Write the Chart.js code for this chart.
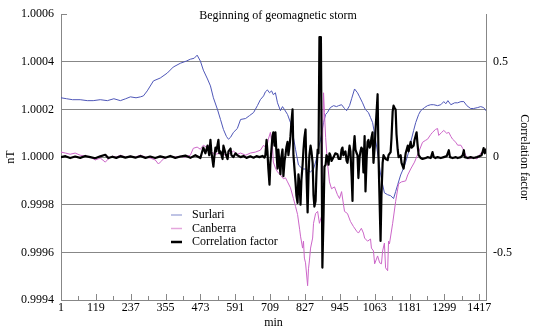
<!DOCTYPE html>
<html>
<head>
<meta charset="utf-8">
<title>Beginning of geomagnetic storm</title>
<script src="https://cdn.jsdelivr.net/npm/chart.js@4.4.1/dist/chart.umd.min.js"></script>
<style>
  html, body { margin: 0; padding: 0; background: #ffffff; }
  #chart { display: block; }
</style>
</head>
<body>
<canvas id="chart" width="534" height="331"></canvas>
<script>
const chartTitle = 'Beginning of geomagnetic storm';
const seriesNames = ['Surlari', 'Canberra', 'Correlation factor'];

// x axis labels (minutes), every 118 with a minor tick half way
const xLabels = [1, 119, 237, 355, 473, 591, 709, 827, 945, 1063, 1181, 1299, 1417];
const nTTicks = [0.9994, 0.9996, 0.9998, 1.0000, 1.0002, 1.0004, 1.0006];
const corrTicks = [-0.5, 0, 0.5];

// Surlari (nT, left axis)
const surlariMin = [1, 20, 40, 66, 90, 110, 134, 158, 180, 202, 220, 236, 255, 270, 280, 293, 314, 337, 361, 381,
  405, 425, 439, 452, 462, 473, 483, 497, 507, 517, 531, 541, 551, 561, 568, 575, 585, 598, 609, 626,
  639, 653, 666, 676, 687, 693, 700, 707, 714, 720, 727, 734, 744, 751, 758, 768, 778, 785, 795, 805,
  819, 829, 839, 846, 856, 863, 870, 880, 890, 897, 903, 913, 924, 934, 941, 951, 961, 968, 978, 985,
  995, 1005, 1012, 1022, 1032, 1042, 1049, 1056, 1066, 1076, 1083, 1090, 1096, 1107, 1117, 1127, 1134, 1141, 1151, 1161,
  1168, 1178, 1185, 1195, 1202, 1212, 1219, 1232, 1242, 1253, 1263, 1276, 1287, 1297, 1304, 1311, 1321, 1334, 1344, 1355,
  1365, 1375, 1388, 1398, 1412, 1422, 1432, 1440];
const surlariVal = [1.000249, 1.000245, 1.000241, 1.000241, 1.000237, 1.000237, 1.000241, 1.000237, 1.000245, 1.000237,
  1.000245, 1.000253, 1.000249, 1.000253, 1.000257, 1.000278, 1.00032, 1.000332, 1.000353, 1.000378,
  1.000394, 1.000403, 1.000411, 1.000415, 1.000428, 1.000403, 1.000365, 1.000328, 1.000299, 1.000249,
  1.000199, 1.000158, 1.000116, 1.000087, 1.000075, 1.000083, 1.000104, 1.00012, 1.000158, 1.000162,
  1.000174, 1.000187, 1.000216, 1.000241, 1.000257, 1.000274, 1.000282, 1.00027, 1.000278, 1.000262,
  1.00027, 1.000228, 1.000195, 1.000212, 1.000199, 1.000179, 1.000145, 1.000104, 1.000033, 0.999967,
  0.99995, 0.99995, 0.999942, 0.999938, 0.99995, 0.999979, 1.000021, 1.000075, 1.000145, 1.000179,
  1.000187, 1.000208, 1.000216, 1.000212, 1.000216, 1.00022, 1.000204, 1.000195, 1.000216, 1.000245,
  1.000286, 1.00027, 1.000253, 1.000228, 1.000199, 1.000187, 1.000166, 1.000145, 1.000075, 0.999992,
  0.999929, 0.999884, 0.99985, 0.999842, 0.999838, 0.999826, 0.999855, 0.999884, 0.999925, 0.999954,
  0.999979, 1.000021, 1.000062, 1.000112, 1.000145, 1.000179, 1.000195, 1.000208, 1.000216, 1.00022,
  1.00022, 1.000216, 1.00022, 1.000233, 1.000224, 1.000237, 1.00022, 1.000228, 1.000228, 1.000233,
  1.000233, 1.000216, 1.000204, 1.000204, 1.000208, 1.000212, 1.000208, 1.000195];

// Canberra (nT, left axis)
const canberraMin = [1, 16, 32, 49, 66, 83, 100, 117, 134, 151, 161, 175, 188, 202, 219, 236, 253, 270, 287, 303,
  320, 331, 337, 348, 361, 371, 388, 405, 422, 439, 449, 462, 473, 483, 493, 500, 510, 524, 541, 558,
  575, 585, 598, 609, 626, 642, 659, 676, 687, 697, 703, 710, 717, 720, 727, 734, 744, 754, 761, 768,
  778, 788, 795, 802, 809, 812, 819, 822, 825, 829, 836, 839, 842, 846, 853, 856, 863, 870, 876, 883,
  886, 890, 893, 897, 903, 910, 917, 927, 937, 944, 951, 961, 971, 981, 991, 1002, 1008, 1018, 1025, 1029,
  1039, 1049, 1052, 1059, 1063, 1073, 1080, 1086, 1090, 1096, 1100, 1107, 1110, 1113, 1124, 1134, 1144, 1154, 1168, 1175,
  1185, 1198, 1212, 1225, 1236, 1242, 1253, 1259, 1269, 1276, 1280, 1290, 1297, 1307, 1314, 1321, 1327, 1338, 1344, 1355,
  1361, 1371, 1381, 1392, 1398, 1409, 1415, 1422, 1432, 1440];
const canberraVal = [1.000021, 1.000017, 1.000012, 1.000017, 1.000008, 1.000004, 1.0, 0.999988, 0.999996, 0.999979,
  0.999992, 1.000004, 1.0, 1.000008, 1.0, 1.000004, 1.0, 1.000008, 1.0, 0.999996,
  0.999988, 0.999971, 0.999979, 0.999992, 1.0, 1.000004, 1.0, 1.000004, 1.0, 1.000008,
  1.000037, 1.000042, 1.000033, 1.00005, 1.000042, 1.00005, 1.000021, 1.000012, 1.000017, 1.000008,
  1.000017, 1.000025, 1.000012, 1.000017, 1.000008, 1.000017, 1.000021, 1.000029, 1.00005, 1.000037,
  1.000075, 1.000104, 1.000042, 0.999979, 0.999954, 0.999938, 0.999925, 0.999909, 0.999913, 0.999896,
  0.999871, 0.999826, 0.999793, 0.999759, 0.999697, 0.999668, 0.999618, 0.999647, 0.999576, 0.999556,
  0.99946, 0.999531, 0.999564, 0.999618, 0.99966, 0.999722, 0.999763, 0.999772, 0.999722, 0.999751,
  1.000021, 1.00027, 1.000187, 1.000083, 0.999979, 0.999896, 0.999867, 0.999875, 0.999842, 0.999826,
  0.999855, 0.999772, 0.999763, 0.99973, 0.999709, 0.999689, 0.999681, 0.999701, 0.999681, 0.99966,
  0.999647, 0.999656, 0.999618, 0.999606, 0.999552, 0.999585, 0.999556, 0.999552, 0.999606, 0.999639,
  0.999535, 0.999523, 0.999647, 0.999635, 0.999722, 0.999813, 0.999888, 0.999896, 0.9999, 0.999925,
  0.99995, 0.999979, 1.000021, 1.000062, 1.000071, 1.000075, 1.000095, 1.000104, 1.000116, 1.00012,
  1.000091, 1.000104, 1.000112, 1.0001, 1.000104, 1.000087, 1.000075, 1.000062, 1.00005, 1.00005,
  1.000037, 1.000008, 0.999992, 0.999996, 1.0, 0.999992, 1.0, 1.000017, 1.000029, 1.000033];

// Correlation factor (right axis)
const corrMin = [1, 16, 32, 49, 66, 83, 100, 117, 134, 151, 161, 175, 188, 202, 219, 236, 253, 270, 287, 303,
  320, 337, 354, 371, 388, 405, 422, 439, 456, 473, 483, 490, 497, 503, 507, 510, 517, 520, 524, 527,
  534, 537, 541, 548, 551, 558, 565, 568, 575, 578, 585, 592, 598, 609, 619, 629, 642, 653, 663, 673,
  683, 690, 693, 697, 700, 703, 707, 710, 714, 717, 720, 724, 727, 730, 734, 737, 741, 744, 747, 751,
  754, 758, 761, 764, 768, 771, 775, 778, 781, 785, 788, 792, 795, 798, 802, 805, 809, 812, 815, 819,
  822, 825, 829, 832, 836, 839, 842, 846, 849, 853, 856, 859, 863, 866, 870, 873, 876, 881, 886, 890,
  893, 897, 900, 903, 907, 910, 913, 917, 924, 930, 937, 941, 947, 951, 954, 957, 964, 968, 971, 975,
  978, 981, 985, 988, 991, 995, 998, 1002, 1005, 1008, 1012, 1015, 1018, 1022, 1025, 1029, 1032, 1036, 1039, 1042,
  1046, 1049, 1052, 1056, 1059, 1063, 1066, 1070, 1073, 1076, 1080, 1083, 1086, 1090, 1093, 1100, 1107, 1110, 1117, 1120,
  1124, 1127, 1130, 1134, 1137, 1141, 1144, 1151, 1154, 1161, 1168, 1175, 1178, 1185, 1188, 1195, 1198, 1205, 1208, 1212,
  1219, 1225, 1236, 1242, 1253, 1259, 1263, 1269, 1276, 1287, 1297, 1307, 1314, 1318, 1327, 1338, 1344, 1355, 1361, 1365,
  1368, 1378, 1388, 1398, 1409, 1419, 1425, 1429, 1432, 1436, 1440];
const corrVal = [0, 0.005, -0.005, 0.003, -0.004, 0.006, 0, -0.006, 0.004, 0.012, -0.005, 0.002, -0.004, 0.005, -0.003, 0.004, -0.003, 0.006, -0.004, 0.003,
  -0.005, 0.004, -0.003, 0.006, -0.004, 0.003, 0.008, -0.004, 0.01, -0.005, 0.05, 0.02, 0.06, 0.01, 0.09, 0.03, -0.05, 0, 0.05, 0.03,
  0.09, 0.02, 0.03, -0.01, 0.06, 0.02, -0.01, 0.03, 0.045, 0.01, 0, 0.02, 0.01, 0, 0.006, -0.004, 0.004, -0.003, 0.005, 0,
  0.006, -0.003, 0.01, 0.09, 0.03, -0.06, -0.145, -0.03, 0.05, 0.11, 0.13, 0.06, 0.13, 0.04, -0.06, 0.04, -0.04, -0.09, 0, 0.04,
  -0.1, -0.02, 0.01, 0.05, 0.08, 0.01, 0.06, 0.11, 0.18, 0.25, 0.01, -0.07, -0.13, -0.2, -0.24, -0.09, -0.15, -0.25, -0.12, -0.04,
  0.04, 0.1, 0.145, -0.08, -0.29, -0.1, 0.01, 0.06, 0.03, -0.03, -0.2, -0.26, -0.23, -0.08, 0.04, 0.02, 0.63, 0.63, -0.58, -0.3,
  -0.05, -0.04, 0.01, 0, -0.04, 0.02, 0.01, -0.02, 0, 0.02, 0.015, -0.01, -0.01, 0.04, 0.05, 0.01, 0.03, -0.02, -0.03, 0.02,
  0.06, 0.03, -0.1, -0.23, 0.03, 0.11, 0.04, 0.02, 0.01, -0.11, 0, 0.03, 0.05, 0.04, -0.08, 0.11, -0.18, 0, 0.08, 0.09,
  0.05, 0.06, 0.1, 0.13, -0.03, 0.05, 0.145, 0.25, 0.33, 0.01, -0.25, -0.44, -0.2, -0.03, 0.01, -0.01, -0.016, 0.01, 0.026, 0.1,
  0.24, 0.27, 0.26, 0.25, 0.12, 0.04, 0, 0.01, -0.03, -0.06, 0.02, 0.06, 0.03, 0.08, 0.05, 0.06, 0.09, 0.13, 0.07, 0.01,
  -0.005, -0.01, -0.005, 0, -0.005, 0.026, 0, -0.005, 0, -0.005, 0, 0.005, 0.036, 0, -0.005, 0, -0.005, 0, 0.01, 0.036,
  0, -0.005, 0, -0.005, 0, 0.005, 0.01, 0.03, 0.047, 0.02, 0.04];

const seriesColors = ['#4f57b8', '#cc66c8', '#000000'];
const legendColors = ['#aab0dc', '#e4a6dc', '#000000'];
const serif = '"Liberation Serif", "Times New Roman", serif';
const gridGray = '#878787';

function toPoints(xs, ys) {
  return xs.map((x, i) => ({ x: x, y: ys[i] }));
}

// title, legend and the inward tick marks on the x axis
const decorations = {
  id: 'decorations',
  afterDraw(chart) {
    const ctx = chart.ctx;
    const area = chart.chartArea;
    const xScale = chart.scales.x;
    ctx.save();

    ctx.strokeStyle = gridGray;
    ctx.lineWidth = 1;
    xScale.ticks.forEach((t) => {
      const px = Math.round(xScale.getPixelForValue(t.value)) + 0.5;
      const len = (t.value - 1) % 118 === 0 ? 6 : 4;
      ctx.beginPath();
      ctx.moveTo(px, area.bottom);
      ctx.lineTo(px, area.bottom - len);
      ctx.stroke();
    });
    ctx.beginPath();
    ctx.moveTo(area.left, Math.round(area.top) + 0.5);
    ctx.lineTo(area.left + 6, Math.round(area.top) + 0.5);
    ctx.stroke();

    ctx.fillStyle = '#000';
    ctx.font = '12px ' + serif;
    ctx.textBaseline = 'middle';
    ctx.textAlign = 'center';
    ctx.fillText(chartTitle, 278, 16);

    ctx.textAlign = 'left';
    const rows = [215, 228.5, 242];
    seriesNames.forEach((name, i) => {
      ctx.strokeStyle = legendColors[i];
      ctx.lineWidth = i === 2 ? 2.5 : 1.5;
      ctx.beginPath();
      ctx.moveTo(171, rows[i]);
      ctx.lineTo(182, rows[i]);
      ctx.stroke();
      ctx.fillText(name, 192, rows[i]);
    });
    ctx.restore();
  }
};

const ctx = document.getElementById('chart').getContext('2d');
new Chart(ctx, {
  type: 'line',
  data: {
    datasets: [
      {
        label: seriesNames[0],
        data: toPoints(surlariMin, surlariVal),
        borderColor: seriesColors[0],
        borderWidth: 1,
        yAxisID: 'y',
        order: 2,
      },
      {
        label: seriesNames[1],
        data: toPoints(canberraMin, canberraVal),
        borderColor: seriesColors[1],
        borderWidth: 1,
        yAxisID: 'y',
        order: 1,
      },
      {
        label: seriesNames[2],
        data: toPoints(corrMin, corrVal),
        borderColor: seriesColors[2],
        borderWidth: 2.2,
        yAxisID: 'y1',
        order: 0,
      },
    ],
  },
  options: {
    responsive: false,
    animation: false,
    events: [],
    elements: {
      point: { radius: 0 },
      line: { tension: 0, borderJoinStyle: 'round', borderCapStyle: 'round' },
    },
    layout: { padding: { top: 11, left: 0, right: 0, bottom: 0 } },
    plugins: {
      legend: { display: false },
      tooltip: { enabled: false },
      title: { display: false },
    },
    scales: {
      x: {
        type: 'linear',
        min: 1,
        max: 1440,
        afterBuildTicks: (scale) => {
          const ticks = [];
          for (let v = 1; v <= 1417; v += 59) ticks.push({ value: v });
          scale.ticks = ticks;
        },
        afterFit: (scale) => { scale.height = 31; },
        ticks: {
          autoSkip: false,
          maxRotation: 0,
          padding: 1,
          color: '#000',
          font: { family: serif, size: 12 },
          callback: (v) => (xLabels.includes(v) ? String(v) : ''),
        },
        grid: { display: false, drawTicks: false },
        border: { display: true, color: gridGray, width: 1 },
        title: {
          display: true,
          text: 'min',
          color: '#000',
          font: { family: serif, size: 12 },
          padding: { top: 0, bottom: 1 },
        },
      },
      y: {
        position: 'left',
        min: 0.9994,
        max: 1.0006,
        afterBuildTicks: (scale) => {
          scale.ticks = nTTicks.map((v) => ({ value: v }));
        },
        afterFit: (scale) => { scale.width = 61; },
        ticks: {
          padding: 7,
          color: '#000',
          font: { family: serif, size: 12 },
          callback: (v) => v.toFixed(4),
        },
        grid: {
          drawTicks: false,
          color: (c) => (c.tick && c.tick.value > 1.0005 ? 'rgba(0,0,0,0)' : gridGray),
        },
        border: { display: true, color: gridGray, width: 1 },
        title: {
          display: true,
          text: 'nT',
          color: '#000',
          font: { family: serif, size: 12 },
          padding: { top: 4, bottom: 0 },
        },
      },
      y1: {
        position: 'right',
        min: -0.75,
        max: 0.75,
        afterBuildTicks: (scale) => {
          scale.ticks = corrTicks.map((v) => ({ value: v }));
        },
        afterFit: (scale) => { scale.width = 48; },
        ticks: {
          padding: 7,
          color: '#000',
          font: { family: serif, size: 12 },
          callback: (v) => String(v),
        },
        grid: { drawOnChartArea: false, drawTicks: false },
        border: { display: true, color: gridGray, width: 1 },
        title: {
          display: true,
          text: 'Correlation factor',
          color: '#000',
          font: { family: serif, size: 12 },
          padding: { top: 3, bottom: 0 },
        },
      },
    },
  },
  plugins: [decorations],
});
</script>
</body>
</html>
